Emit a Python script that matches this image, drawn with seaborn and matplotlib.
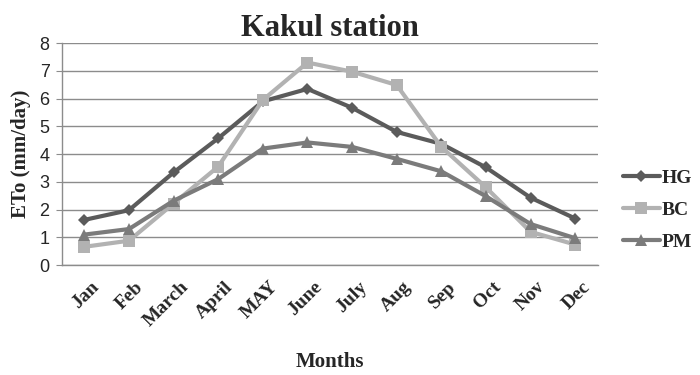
import matplotlib
matplotlib.use("Agg")
import matplotlib.pyplot as plt
import matplotlib.transforms as mtransforms
import seaborn as sns
import pandas as pd

months = ["Jan", "Feb", "March", "April", "MAY", "June", "July", "Aug", "Sep", "Oct", "Nov", "Dec"]
hg = [1.63, 1.98, 3.34, 4.57, 5.9, 6.35, 5.67, 4.8, 4.37, 3.52, 2.43, 1.68]
bc = [0.66, 0.88, 2.22, 3.55, 5.95, 7.3, 6.97, 6.49, 4.26, 2.8, 1.2, 0.74]
pm = [1.1, 1.3, 2.32, 3.1, 4.2, 4.42, 4.26, 3.83, 3.38, 2.48, 1.48, 0.97]
series_names = ["HG", "BC", "PM"]

df = pd.DataFrame({"Month": months * 3,
                   "x": list(range(12)) * 3,
                   "ETo": hg + bc + pm,
                   "Series": sum([[s] * 12 for s in series_names], [])})

sns.set_style("white")
fig = plt.figure(figsize=(7, 3.75), dpi=100)
ax = fig.add_axes([0.0886, 0.293, 0.765, 0.592])

palette = {"HG": "#5b5b5b", "BC": "#b2b2b2", "PM": "#7b7b7b"}
markers = {"HG": "D", "BC": "s", "PM": "^"}
sizes = {"HG": 6.5, "BC": 9, "PM": 9}
for s in series_names:
    d = df[df["Series"] == s]
    sns.lineplot(data=d, x="x", y="ETo", ax=ax, color=palette[s], marker=markers[s],
                 markersize=sizes[s], markeredgewidth=0, linewidth=3, label=s)

ax.set_xlim(-0.5, 11.5)
ax.set_ylim(0, 8)
ax.set_yticks(range(0, 9))
ax.yaxis.grid(True, color="#8c8c8c", linewidth=1)
ax.set_axisbelow(True)
for sp in ["top", "right"]:
    ax.spines[sp].set_visible(False)
for sp in ["left", "bottom"]:
    ax.spines[sp].set_color("#8c8c8c")
    ax.spines[sp].set_linewidth(1)
ax.tick_params(axis="y", left=True, length=4, color="#8c8c8c", labelsize=13, pad=5)
ax.tick_params(axis="x", bottom=False, pad=6)
for lab in ax.get_yticklabels():
    lab.set_family("Liberation Sans")
ax.set_xticks(range(12))
ax.set_xticklabels(months, rotation=45, ha="right", rotation_mode="anchor",
                   family="Liberation Serif", fontweight="bold", fontsize=14)
offset = mtransforms.ScaledTranslation(6 / 100, 0, fig.dpi_scale_trans)
for lab in ax.get_xticklabels():
    lab.set_transform(lab.get_transform() + offset)
ax.set_xlabel("Months", family="Liberation Serif", fontweight="bold", fontsize=15, labelpad=16)
ax.set_ylabel("ETo (mm/day)", family="Liberation Serif", fontweight="bold", fontsize=15, labelpad=6)
ax.set_title("Kakul station", family="Liberation Serif", fontweight="bold", fontsize=22, pad=5)

handles, labels = ax.get_legend_handles_labels()
ax.legend_.remove() if ax.legend_ else None
fig.legend(handles, labels, loc="center left", bbox_to_anchor=(0.89, 0.44),
           bbox_transform=fig.transFigure, frameon=False, borderpad=0, borderaxespad=0,
           prop={"family": "Liberation Serif", "weight": "bold", "size": 14},
           handlelength=1.9, labelspacing=0.75, handletextpad=0.1)

fig.savefig("out.png", dpi=100)
